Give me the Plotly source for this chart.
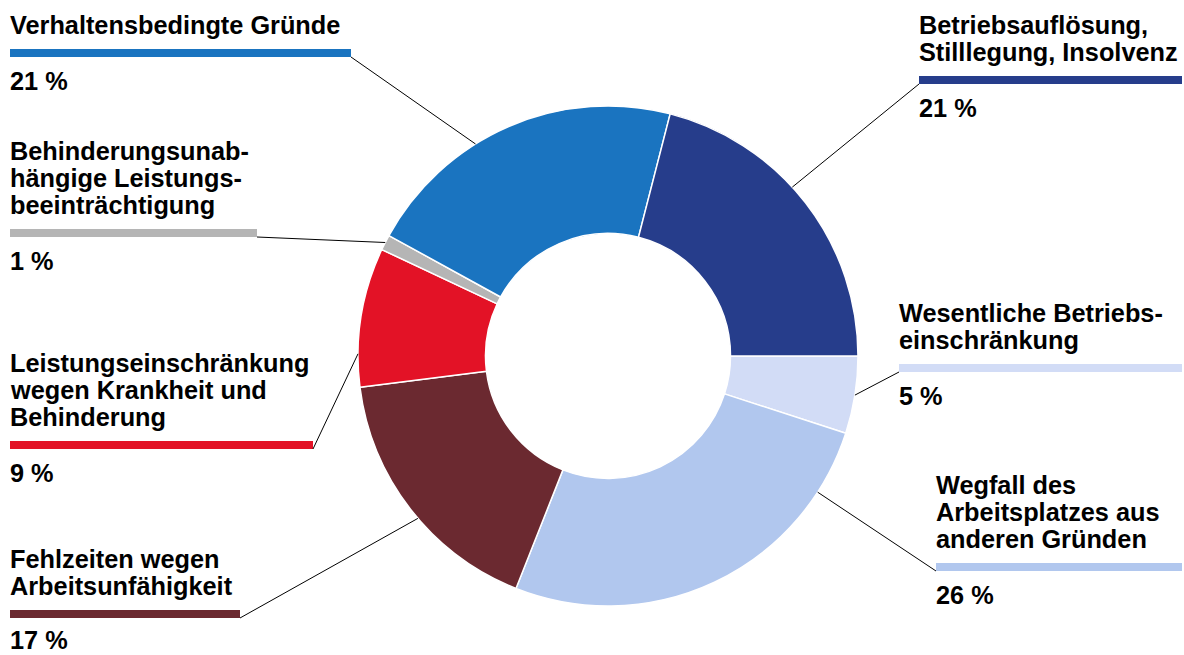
import math
import plotly.graph_objects as go

# ---------------- data ----------------
labels = [
    "Wesentliche Betriebseinschränkung",
    "Wegfall des Arbeitsplatzes aus anderen Gründen",
    "Fehlzeiten wegen Arbeitsunfähigkeit",
    "Leistungseinschränkung wegen Krankheit und Behinderung",
    "Behinderungsunabhängige Leistungsbeeinträchtigung",
    "Verhaltensbedingte Gründe",
    "Betriebsauflösung, Stilllegung, Insolvenz",
]
values = [5, 26, 17, 9, 1, 21, 21]
label_lines = [
    ["Wesentliche Betriebs-", "einschränkung"],
    ["Wegfall des", "Arbeitsplatzes aus", "anderen Gründen"],
    ["Fehlzeiten wegen", "Arbeitsunfähigkeit"],
    ["Leistungseinschränkung", "wegen Krankheit und", "Behinderung"],
    ["Behinderungsunab-", "hängige Leistungs-", "beeinträchtigung"],
    ["Verhaltensbedingte Gründe"],
    ["Betriebsauflösung,", "Stilllegung, Insolvenz"],
]
pct_text = ["5 %", "26 %", "17 %", "9 %", "1 %", "21 %", "21 %"]

# ---------------- styles / layout ----------------
colors = ["#d2dcf6", "#b1c7ee", "#6b2930", "#e31226", "#b5b5b5", "#1a74c0", "#263d8b"]
W, H = 1184, 655
CX, CY, R = 608, 356, 250          # pie centre / radius in px
HOLE = 0.49
FS = 25.3
FONT = "Liberation Sans, Arial, sans-serif"
LINE_H = 27
BAR_H = 8

# label bar position (x0, x1, y_top) in px, and side ('L' bar end at right, 'R' bar start at left)
bars = [
    (899, 1182, 364, "R"),
    (936, 1182, 563, "R"),
    (10, 240, 610, "L"),
    (10, 313, 441, "L"),
    (10, 257, 229, "L"),
    (10, 351, 49, "L"),
    (919, 1182, 76, "R"),
]
# angle (deg, clockwise from 12 o'clock) where the leader line touches the ring
leader_angles = [99, 123, 229.5, 270.5, 297, 328, 47.5]


def px(x):
    return x / W


def py(y):
    return 1 - y / H


fig = go.Figure(
    go.Pie(
        labels=labels,
        values=values,
        hole=HOLE,
        sort=False,
        direction="clockwise",
        rotation=90,
        marker=dict(colors=colors, line=dict(color="white", width=1.5)),
        textinfo="none",
        hoverinfo="label+percent",
        domain=dict(x=[px(CX - R), px(CX + R)], y=[py(CY + R), py(CY - R)]),
        showlegend=False,
    )
)

shapes = []
annotations = []
ASC = 0.905 * FS  # baseline offset from annotation top
DESC = 0.212 * FS

for i in range(len(values)):
    x0, x1, ytop, side = bars[i]
    c = colors[i]
    shapes.append(dict(type="rect", xref="paper", yref="paper",
                       x0=px(x0), x1=px(x1), y0=py(ytop + BAR_H), y1=py(ytop),
                       fillcolor=c, line=dict(width=0), layer="above"))
    # leader line
    bx = x1 if side == "L" else x0
    by = ytop + BAR_H
    a = math.radians(leader_angles[i])
    ex = CX + R * math.sin(a)
    ey = CY - R * math.cos(a)
    shapes.append(dict(type="line", xref="paper", yref="paper",
                       x0=px(bx), y0=py(by), x1=px(ex), y1=py(ey),
                       line=dict(color="black", width=1)))
    # label lines
    lines = label_lines[i]
    n = len(lines)
    for j, t in enumerate(lines):
        base = ytop - 15 - LINE_H * (n - 1 - j)
        annotations.append(dict(text=f"<b>{t}</b>", xref="paper", yref="paper",
                                x=px(x0), y=py(base - ASC), xanchor="left", yanchor="top",
                                showarrow=False, borderpad=0, borderwidth=0,
                                font=dict(family=FONT, size=FS, color="black")))
    base = min(ytop + BAR_H + 33, H - 0.5 - DESC)
    annotations.append(dict(text=f"<b>{pct_text[i]}</b>", xref="paper", yref="paper",
                            x=px(x0), y=py(base - ASC), xanchor="left", yanchor="top",
                            showarrow=False, borderpad=0, borderwidth=0,
                            font=dict(family=FONT, size=FS, color="black")))

fig.update_layout(
    width=W, height=H,
    margin=dict(l=0, r=0, t=0, b=0),
    paper_bgcolor="white", plot_bgcolor="white",
    shapes=shapes, annotations=annotations,
)
fig.write_html("out.html")
